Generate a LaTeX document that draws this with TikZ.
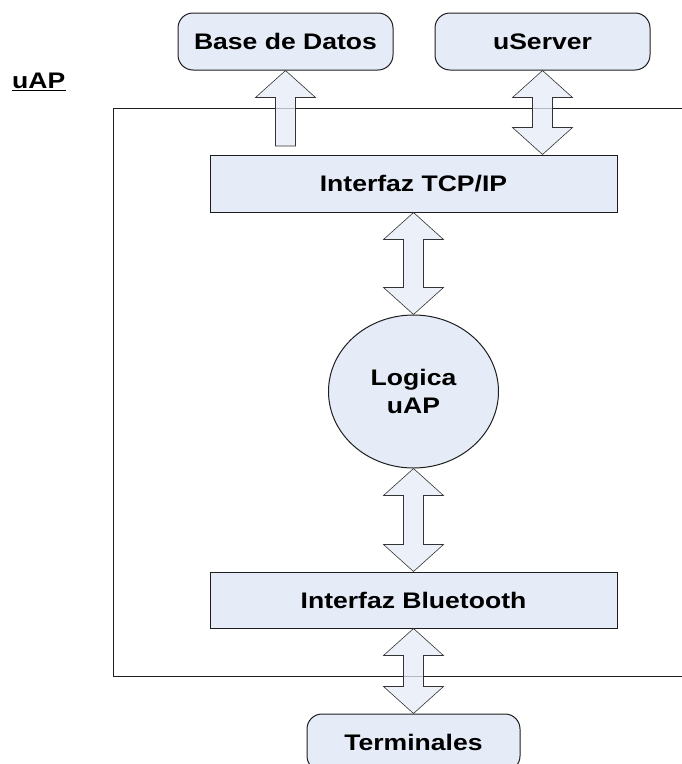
\documentclass[tikz,border=0pt]{standalone}
\usepackage{fontspec}
\newfontfamily\lblfont{Liberation Sans}[FakeStretch=1.18]
\usetikzlibrary{positioning, calc, shapes.geometric}

\definecolor{boxfill}{RGB}{230,236,247}
\definecolor{edgegray}{RGB}{30,30,30}

% block arrow with a head at both ends, top tip first
\newcommand{\dblarrow}[2]{%
    \draw[blockarrow] (#1) -- ++(30,27) -- ++(-20,0) -- ($(#2)+(10,-27)$) -- ++(20,0) -- (#2)
        -- ++(-30,-27) -- ++(20,0) -- ($(#1)+(-10,27)$) -- ++(-20,0) -- cycle;}
% block arrow with one head, foot first
\newcommand{\sglarrow}[2]{%
    \draw[blockarrow] (#2) -- ++(30,27) -- ++(-20,0) -- ($(#1)+(10,0)$) -- ++(-20,0)
        -- ($(#2)+(-10,27)$) -- ++(-20,0) -- cycle;}

\begin{document}
\begin{tikzpicture}[
        x=1pt, y=-1pt,
        box/.style={draw=edgegray, line width=1pt, fill=boxfill, minimum width=407pt,
            minimum height=57pt, font=\lblfont\bfseries\fontsize{22.5}{28}\selectfont},
        ext/.style={box, rounded corners=15pt, minimum width=215pt},
        logic/.style={box, ellipse, minimum width=170pt, minimum height=153pt,
            align=center, inner sep=0pt},
        blockarrow/.style={draw=black!80, line width=0.6pt, fill=boxfill, fill opacity=0.75},
        frame/.style={draw=edgegray, line width=1pt},
    ]
    \useasboundingbox (0,0) rectangle (682,764);
    \clip (0,0) rectangle (682,764);

    % the uAP frame, open on the right
    \draw[frame] (682,108) -| (113,676) -- (682,676);
    \node[anchor=base west, inner sep=0pt, font=\lblfont\bfseries\fontsize{22.5}{28}\selectfont]
        (title) at (12,88) {uAP};
    \draw[line width=1.6pt] ([yshift=-2.5pt]title.base west) -- ([yshift=-2.5pt]title.base east);

    % outside blocks
    \node[ext] (db) at (285.5,41.5) {Base de Datos};
    \node[ext] (srv) at (542.5,41.5) {uServer};
    \node[ext, minimum width=213pt] (term) at (413.5,742.5) {Terminales};

    % inside blocks
    \node[box] (tcp) at (413.5,183.5) {Interfaz TCP/IP};
    \node[logic] (logic) at (413.5,391.5) {Logica\\uAP};
    \node[box, minimum height=56pt] (bt) at (413.5,600) {Interfaz Bluetooth};

    % arrows
    \coordinate (dbfoot) at (285.5,146);
    \coordinate (srvfoot) at (srv.south |- tcp.north);
    \sglarrow{dbfoot}{db.south}
    \foreach \a/\b in {srv.south/srvfoot, tcp.south/logic.north, logic.south/bt.north, bt.south/term.north}
        {\dblarrow{\a}{\b}}
\end{tikzpicture}
\end{document}
